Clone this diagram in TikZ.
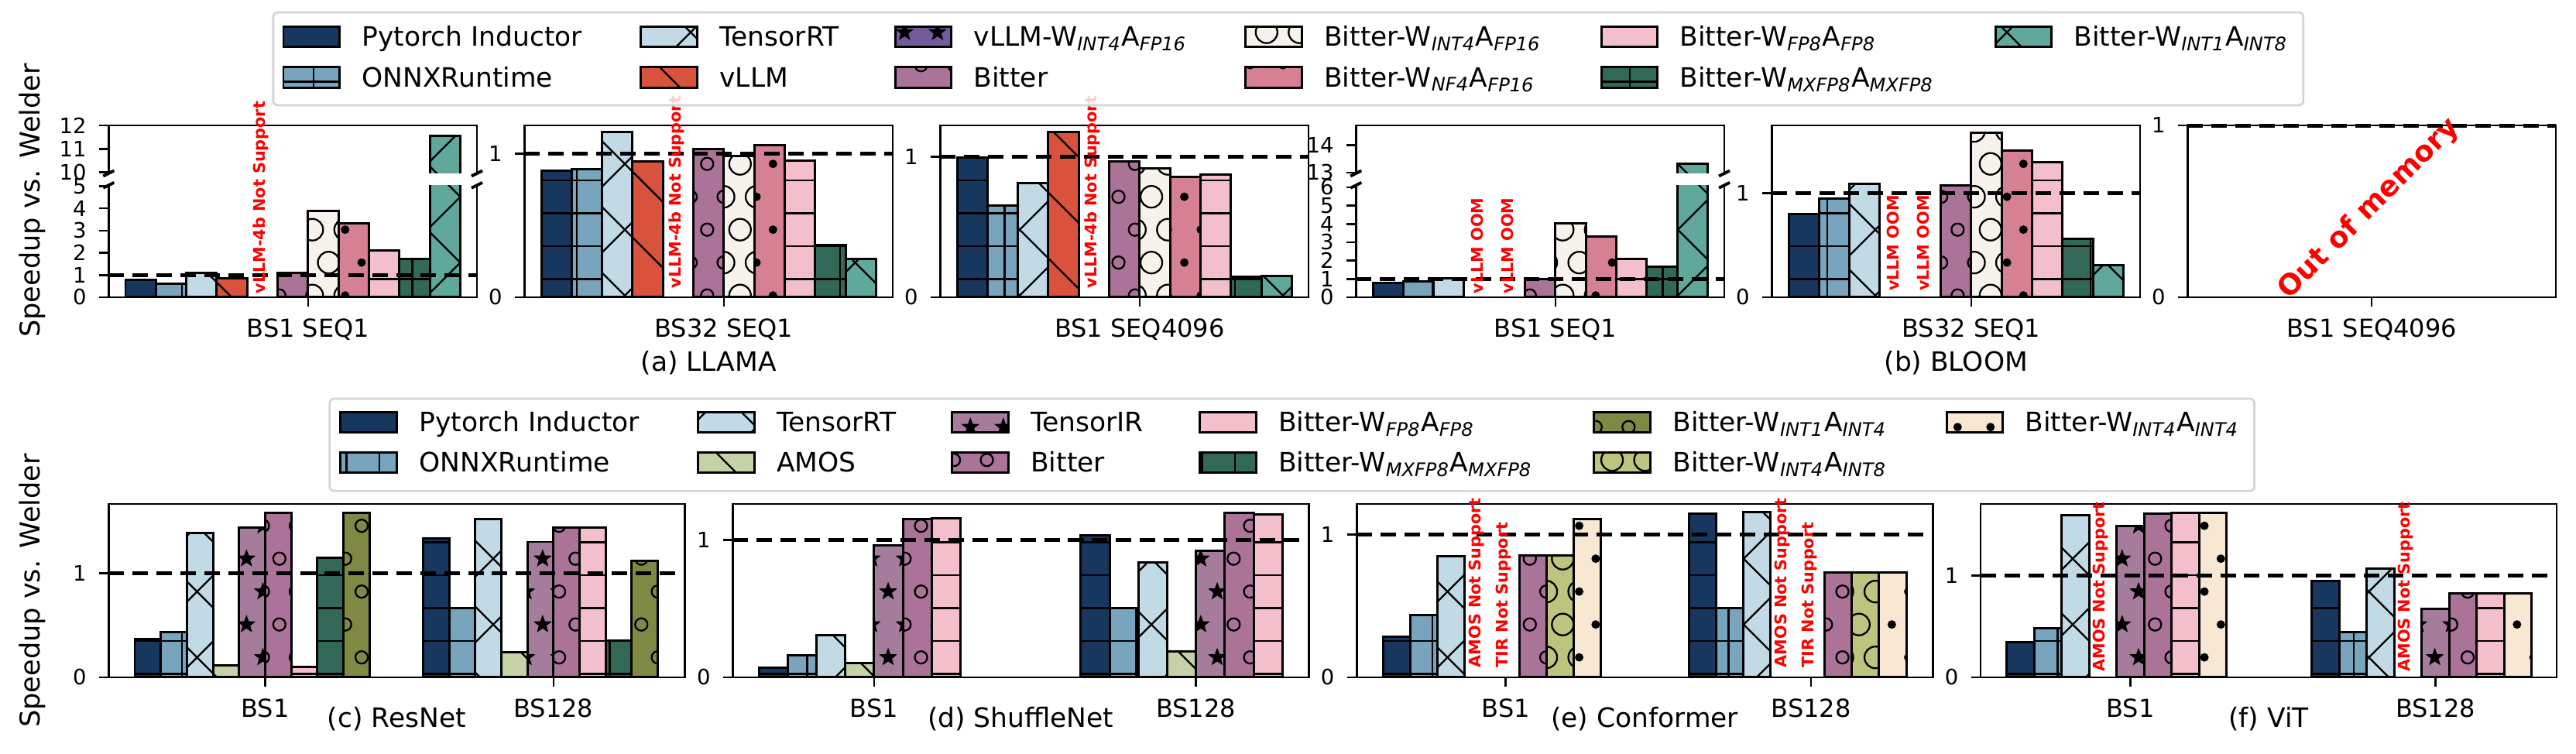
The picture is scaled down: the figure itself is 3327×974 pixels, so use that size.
\documentclass[tikz,border=0pt]{standalone}
\usepackage{fontspec}
\setmainfont{DejaVu Sans}[ItalicFont={DejaVu Sans Oblique},BoldFont={DejaVu Sans Bold},BoldItalicFont={DejaVu Sans Bold Oblique}]

\definecolor{cpti}{HTML}{17375E}
\definecolor{cort}{HTML}{78A4BE}
\definecolor{ctrt}{HTML}{C1DAE5}
\definecolor{cvllm}{HTML}{D8523C}
\definecolor{cvllmq}{HTML}{735A9B}
\definecolor{cbit}{HTML}{AA7397}
\definecolor{cwifs}{HTML}{F7F2EC}
\definecolor{cwnfs}{HTML}{D68093}
\definecolor{cwfpe}{HTML}{F2BFCA}
\definecolor{cwmxe}{HTML}{326858}
\definecolor{cwioe}{HTML}{5FA89B}
\definecolor{camos}{HTML}{C5D2A5}
\definecolor{ctir}{HTML}{A67C9C}
\definecolor{cwiof}{HTML}{808944}
\definecolor{cwife}{HTML}{BCC47E}
\definecolor{cwiff}{HTML}{F8E7D3}
\definecolor{legendgray}{HTML}{D5D5D5}

\newcommand{\wa}[2]{W\textsubscript{\itshape #1}A\textsubscript{\itshape #2}}

%% hatches, all on one lattice of the whole figure
\newcommand{\hatchhl}{%
  \pgfmathtruncatemacro\hma{floor((\hya-233)/42.5)}%
  \pgfmathtruncatemacro\hmb{ceil((\hyb-233)/42.5)}%
  \foreach \hm in {\hma,...,\hmb}{\draw[hatchline] (\hxa,{233+42.5*(\hm)}) -- (\hxb,{233+42.5*(\hm)});}}
\newcommand{\hatchvl}{%
  \pgfmathtruncatemacro\hka{floor((\hxa-915)/42.5)}%
  \pgfmathtruncatemacro\hkb{ceil((\hxb-915)/42.5)}%
  \foreach \hk in {\hka,...,\hkb}{\draw[hatchline] ({915+42.5*(\hk)},\hya) -- ({915+42.5*(\hk)},\hyb);}}
\newcommand{\hatchbs}{%
  \pgfmathtruncatemacro\hna{floor((\hya-\hxb+595.3)/85)}%
  \pgfmathtruncatemacro\hnb{ceil((\hyb-\hxa+595.3)/85)}%
  \foreach \hn in {\hna,...,\hnb}{\draw[hatchline] (\hxa,{\hxa-595.3+85*(\hn)}) -- (\hxb,{\hxb-595.3+85*(\hn)});}}
\newcommand{\hatchfs}{%
  \pgfmathtruncatemacro\hna{floor((\hya+\hxa-1018.7)/85)}%
  \pgfmathtruncatemacro\hnb{ceil((\hyb+\hxb-1018.7)/85)}%
  \foreach \hn in {\hna,...,\hnb}{\draw[hatchline] (\hxa,{1018.7+85*(\hn)-\hxa}) -- (\hxb,{1018.7+85*(\hn)-\hxb});}}
\newcommand{\lattice}[1]{%
  \pgfmathtruncatemacro\hma{floor((\hya-211.7)/42.5)-1}%
  \pgfmathtruncatemacro\hmb{ceil((\hyb-211.7)/42.5)+1}%
  \pgfmathtruncatemacro\hka{floor((\hxa-913.3)/42.5)-1}%
  \pgfmathtruncatemacro\hkb{ceil((\hxb-913.3)/42.5)+1}%
  \foreach \hm in {\hma,...,\hmb}{%
    \pgfmathsetmacro\hsh{0.5*abs(mod(\hm,2))}%
    \foreach \hk in {\hka,...,\hkb}{#1{913.3+42.5*(\hk+\hsh)}{211.7+42.5*(\hm)}}}}
\newcommand{\starmark}[2]{\fill[black] ({#1},{#2}) +(90:0.125cm) -- +(126:0.052cm) -- +(162:0.125cm) -- +(198:0.052cm) -- +(234:0.125cm) -- +(270:0.052cm) -- +(306:0.125cm) -- +(342:0.052cm) -- +(18:0.125cm) -- +(54:0.052cm) -- cycle;}
\newcommand{\ringsmall}[2]{\draw[hatchline] ({#1},{#2}) circle[radius=0.08cm];}
\newcommand{\ringlarge}[2]{\draw[hatchline] ({#1},{#2}) circle[radius=0.14cm];}
\newcommand{\dotmark}[2]{\fill[black] ({#1},{#2}) circle[radius=0.055cm];}

\newcommand{\hatchpti}{\hatchhl}
\newcommand{\hatchort}{\hatchhl\hatchvl}
\newcommand{\hatchtrt}{\hatchbs\hatchfs}
\newcommand{\hatchvllm}{\hatchbs}
\newcommand{\hatchvllmq}{\lattice\starmark}
\newcommand{\hatchbit}{\lattice\ringsmall}
\newcommand{\hatchwifs}{\lattice\ringlarge}
\newcommand{\hatchwnfs}{\lattice\dotmark}
\newcommand{\hatchwfpe}{\hatchhl}
\newcommand{\hatchwmxe}{\hatchhl\hatchvl}
\newcommand{\hatchwioe}{\hatchbs\hatchfs}
\newcommand{\hatchamos}{\hatchbs}
\newcommand{\hatchtir}{\lattice\starmark}
\newcommand{\hatchwiof}{\lattice\ringsmall}
\newcommand{\hatchwife}{\lattice\ringlarge}
\newcommand{\hatchwiff}{\lattice\dotmark}

%% one hatched box: series, x1, y1 (top), x2, y2 (bottom)
\newcommand{\hrect}[5]{%
  \edef\hser{#1}%
  \pgfmathsetmacro\hxa{#2}\pgfmathsetmacro\hya{#3}%
  \pgfmathsetmacro\hxb{#4}\pgfmathsetmacro\hyb{#5}%
  \fill[fill=c\hser] (\hxa,\hya) rectangle (\hxb,\hyb);
  \begin{scope}
    \clip (\hxa,\hya) rectangle (\hxb,\hyb);
    \csname hatch\hser\endcsname
  \end{scope}
  \draw[baredge] (\hxa,\hya) rectangle (\hxb,\hyb);}

%% bars: first slot x, slot width, y of 0, px per unit, slot/series/value
\newcommand{\bars}[5]{%
  \foreach \bi/\bs/\bv in {#5}{%
    \hrect{\bs}{#1+#2*\bi}{#3-#4*\bv}{#1+#2*\bi+#2}{#3}}}
\newcommand{\yticks}[3]{%
  \foreach \lab/\yy in {#3}{%
    \draw[tickline] (#2-12,\yy) -- (#2,\yy);
    \node[ytick] (yt-#1-\lab) at (#2-28,\yy) {\lab};}}
\newcommand{\xtick}[4]{%
  \draw[tickline] (#2,#3) -- (#2,#3+12);
  \node[xtick] (xt-#1) at (#2,#3+27.5) {#4};}
\newcommand{\legitem}[5]{%
  \hrect{#2}{#3}{#4}{#3+72.5}{#4+26.7}
  \node[legtext] (leg#1-#2) at (#3+101,#4+25.65) {#5};}

\begin{document}
\begin{tikzpicture}[x=0.01cm, y=-0.01cm,
  baredge/.style={draw=black, line width=0.85pt},
  hatchline/.style={draw=black, line width=0.65pt},
  spine/.style={draw=black, line width=0.8pt},
  tickline/.style={draw=black, line width=0.7pt},
  oneline/.style={draw=black, line width=1.5pt, dash pattern=on 5.7pt off 3.1pt},
  breakmark/.style={draw=black, line width=1.1pt},
  legframe/.style={draw=legendgray, line width=0.8pt, rounded corners=1.7pt, fill=white, fill opacity=0.8},
  legtext/.style={anchor=base west, inner sep=0pt, font=\fontsize{9.8}{12}\selectfont},
  ytick/.style={anchor=east, inner sep=0pt, font=\fontsize{7.8}{9}\selectfont},
  xtick/.style={anchor=north, inner sep=0pt, font=\fontsize{9.1}{11}\selectfont},
  caption/.style={anchor=base, inner sep=0pt, font=\fontsize{9.8}{12}\selectfont},
  ylab/.style={rotate=90, inner sep=0pt, font=\fontsize{10}{12}\selectfont},
  nosupport/.style={rotate=90, anchor=west, inner sep=0pt, text=red, font=\fontsize{5.9}{7}\selectfont\bfseries},
  oom/.style={rotate=45, inner sep=0pt, text=red, font=\fontsize{10.5}{12}\selectfont\bfseries}]
\useasboundingbox (0,0) rectangle (3327,974);

%%%% (a) LLAMA
% BS1 SEQ1, broken axis
\begin{scope}
  \clip (140.3,162) rectangle (616,224);
  \bars{162}{39.3}{526.2}{30.35}{10/wioe/11.55}
\end{scope}
\begin{scope}
  \clip (140.3,239.3) rectangle (616,384);
  \bars{162}{39.3}{384}{28.7}{0/pti/0.80, 1/ort/0.62, 2/trt/1.09, 3/vllm/0.84, 5/bit/1.09, 6/wifs/3.88, 7/wnfs/3.32, 8/wfpe/2.10, 9/wmxe/1.73, 10/wioe/11.55}
  \draw[oneline] (140.3,355.3) -- (616,355.3);
\end{scope}
\draw[spine] (140.3,224) -- (140.3,162) -- (616,162) -- (616,224);
\draw[spine] (140.3,239.3) -- (140.3,384) -- (616,384) -- (616,239.3);
\foreach \bx in {140.3,616} \foreach \by in {224,239.3} \draw[breakmark] (\bx-7,\by+3.5) -- (\bx+7,\by-3.5);
\yticks{a1}{140.3}{12/162, 11/192.35, 10/222.7, 5/240.5, 4/269.2, 3/297.9, 2/326.6, 1/355.3, 0/384}
\xtick{a1}{397.8}{384}{BS1 SEQ1}

% BS32 SEQ1
\begin{scope}
  \clip (677.3,162) rectangle (1153,384);
  \bars{699}{39.3}{384}{185.7}{0/pti/0.883, 1/ort/0.889, 2/trt/1.147, 3/vllm/0.946, 5/bit/1.030, 6/wifs/0.982, 7/wnfs/1.059, 8/wfpe/0.951, 9/wmxe/0.362, 10/wioe/0.264}
  \draw[oneline] (677.3,198.3) -- (1153,198.3);
\end{scope}
\draw[spine] (677.3,162) rectangle (1153,384);
\yticks{a2}{677.3}{1/198.3, 0/384}
\xtick{a2}{934.8}{384}{BS32 SEQ1}

% BS1 SEQ4096
\begin{scope}
  \clip (1214.3,162) rectangle (1690,384);
  \bars{1236}{39.3}{384}{181.3}{0/pti/0.993, 1/ort/0.656, 2/trt/0.812, 3/vllm/1.175, 5/bit/0.969, 6/wifs/0.917, 7/wnfs/0.859, 8/wfpe/0.873, 9/wmxe/0.145, 10/wioe/0.151}
  \draw[oneline] (1214.3,202.7) -- (1690,202.7);
\end{scope}
\draw[spine] (1214.3,162) rectangle (1690,384);
\yticks{a3}{1214.3}{1/202.7, 0/384}
\xtick{a3}{1471.8}{384}{BS1 SEQ4096}

\node[nosupport] (ns-a1) at (336.4,380) {vLLM-4b Not Support};
\node[nosupport] (ns-a2) at (873.4,373) {vLLM-4b Not Support};
\node[nosupport] (ns-a3) at (1410.4,373) {vLLM-4b Not Support};
\node[caption] (cap-a) at (915.2,480) {(a) LLAMA};

%%%% (b) BLOOM
% BS1 SEQ1, broken axis
\begin{scope}
  \clip (1751.3,162) rectangle (2227,224);
  \bars{1773}{39.3}{687.1}{35.7}{10/wioe/13.31}
\end{scope}
\begin{scope}
  \clip (1751.3,239.3) rectangle (2227,384);
  \bars{1773}{39.3}{384}{23.67}{0/pti/0.773, 1/ort/0.874, 2/trt/1.014, 5/bit/1.01, 6/wifs/4.03, 7/wnfs/3.30, 8/wfpe/2.07, 9/wmxe/1.65, 10/wioe/13.31}
  \draw[oneline] (1751.3,360.3) -- (2227,360.3);
\end{scope}
\draw[spine] (1751.3,224) -- (1751.3,162) -- (2227,162) -- (2227,224);
\draw[spine] (1751.3,239.3) -- (1751.3,384) -- (2227,384) -- (2227,239.3);
\foreach \bx in {1751.3,2227} \foreach \by in {224,239.3} \draw[breakmark] (\bx-7,\by+3.5) -- (\bx+7,\by-3.5);
\yticks{b1}{1751.3}{14/187.3, 13/223, 6/242, 5/265.65, 4/289.3, 3/313, 2/336.7, 1/360.3, 0/384}
\xtick{b1}{2008.8}{384}{BS1 SEQ1}

% BS32 SEQ1
\begin{scope}
  \clip (2288.3,162) rectangle (2764,384);
  \bars{2310}{39.3}{384}{134.7}{0/pti/0.80, 1/ort/0.95, 2/trt/1.084, 5/bit/1.074, 6/wifs/1.581, 7/wnfs/1.408, 8/wfpe/1.292, 9/wmxe/0.562, 10/wioe/0.307}
  \draw[oneline] (2288.3,249.3) -- (2764,249.3);
\end{scope}
\draw[spine] (2288.3,162) rectangle (2764,384);
\yticks{b2}{2288.3}{1/249.3, 0/384}
\xtick{b2}{2545.8}{384}{BS32 SEQ1}

% BS1 SEQ4096
\draw[spine] (2825.3,162) rectangle (3301,384);
\draw[oneline] (2825.3,162.5) -- (3301,162.5);
\yticks{b3}{2825.3}{1/162, 0/384}
\xtick{b3}{3063.2}{384}{BS1 SEQ4096}
\node[oom] (oom-b3) at (3060,270) {Out of memory};

\node[nosupport] (ns-b1a) at (1908.1,380) {vLLM OOM};
\node[nosupport] (ns-b1b) at (1947.4,380) {vLLM OOM};
\node[nosupport] (ns-b2a) at (2445.1,376.7) {vLLM OOM};
\node[nosupport] (ns-b2b) at (2484.4,376.7) {vLLM OOM};
\node[caption] (cap-b) at (2526.2,480) {(b) BLOOM};

%%%% bottom row
% (c) ResNet
\begin{scope}
  \clip (140.3,651) rectangle (884.3,875);
  \bars{174}{33.67}{875}{134.3}{0/pti/0.367, 1/ort/0.434, 2/trt/1.385, 3/amos/0.119, 4/tir/1.444, 5/bit/1.584, 6/wfpe/0.104, 7/wmxe/1.149, 8/wiof/1.584}
  \bars{546.5}{33.67}{875}{134.3}{0/pti/1.333, 1/ort/0.663, 2/trt/1.526, 3/amos/0.241, 4/tir/1.303, 5/bit/1.444, 6/wfpe/1.444, 7/wmxe/0.352, 8/wiof/1.117}
  \draw[oneline] (140.3,740.7) -- (884.3,740.7);
\end{scope}
\draw[spine] (140.3,651) rectangle (884.3,875);
\yticks{c}{140.3}{1/740.7, 0/875}
\xtick{c1}{342.3}{875}{BS1}
\xtick{c2}{714.8}{875}{BS128}
\node[caption] (cap-c) at (512.3,940) {(c) ResNet};

% (d) ShuffleNet
\begin{scope}
  \clip (946.2,651) rectangle (1690.2,875);
  \bars{980}{37.2}{875}{177.7}{0/pti/0.069, 1/ort/0.159, 2/trt/0.304, 3/amos/0.103, 4/tir/0.957, 5/bit/1.148, 6/wfpe/1.154}
  \bars{1395.8}{37.2}{875}{177.7}{0/pti/1.035, 1/ort/0.506, 2/trt/0.835, 3/amos/0.187, 4/tir/0.919, 5/bit/1.197, 6/wfpe/1.187}
  \draw[oneline] (946.2,697.3) -- (1690.2,697.3);
\end{scope}
\draw[spine] (946.2,651) rectangle (1690.2,875);
\yticks{d}{946.2}{1/697.3, 0/875}
\xtick{d1}{1128.8}{875}{BS1}
\xtick{d2}{1544.6}{875}{BS128}
\node[caption] (cap-d) at (1318.2,940) {(d) ShuffleNet};

% (e) Conformer
\begin{scope}
  \clip (1752.1,651) rectangle (2496.1,875);
  \bars{1786.6}{35.1}{875}{184.7}{0/pti/0.283, 1/ort/0.435, 2/trt/0.845, 5/bit/0.855, 6/wife/0.855, 7/wiff/1.105}
  \bars{2181.2}{35.1}{875}{184.7}{0/pti/1.146, 1/ort/0.487, 2/trt/1.155, 5/bit/0.735, 6/wife/0.735, 7/wiff/0.735}
  \draw[oneline] (1752.1,690.3) -- (2496.1,690.3);
\end{scope}
\draw[spine] (1752.1,651) rectangle (2496.1,875);
\yticks{e}{1752.1}{1/690.3, 0/875}
\xtick{e1}{1944.6}{875}{BS1}
\xtick{e2}{2339.2}{875}{BS128}
\node[nosupport] (ns-e1a) at (1907,863) {AMOS Not Support};
\node[nosupport] (ns-e1b) at (1942.1,863) {TIR Not Support};
\node[nosupport] (ns-e2a) at (2301.6,863) {AMOS Not Support};
\node[nosupport] (ns-e2b) at (2336.7,863) {TIR Not Support};
\node[caption] (cap-e) at (2124.1,940) {(e) Conformer};

% (f) ViT
\begin{scope}
  \clip (2558,651) rectangle (3302,875);
  \bars{2591.7}{35.5}{875}{131.7}{0/pti/0.342, 1/ort/0.484, 2/trt/1.588, 4/tir/1.487, 5/bit/1.607, 6/wfpe/1.615, 7/wiff/1.615}
  \bars{2985.6}{35.5}{875}{131.7}{0/pti/0.942, 1/ort/0.443, 2/trt/1.068, 4/tir/0.671, 5/bit/0.823, 6/wfpe/0.823, 7/wiff/0.823}
  \draw[oneline] (2558,743.3) -- (3302,743.3);
\end{scope}
\draw[spine] (2558,651) rectangle (3302,875);
\yticks{f}{2558}{1/743.3, 0/875}
\xtick{f1}{2751.5}{875}{BS1}
\xtick{f2}{3145.4}{875}{BS128}
\node[nosupport] (ns-f1) at (2713.4,868.3) {AMOS Not Support};
\node[nosupport] (ns-f2) at (3107.4,868.3) {AMOS Not Support};
\node[caption] (cap-f) at (2930,940) {(f) ViT};

\node[ylab] (ylab-top) at (42,259) {Speedup vs. Welder};
\node[ylab] (ylab-bot) at (42,763) {Speedup vs. Welder};

%%%% legends
\draw[legframe] (352.9,16) rectangle (2974.8,136);
\legitem{1}{pti}{366}{34.3}{Pytorch Inductor}
\legitem{1}{ort}{366}{86.7}{ONNXRuntime}
\legitem{1}{trt}{827.8}{34.3}{TensorRT}
\legitem{1}{vllm}{827.8}{86.7}{vLLM}
\legitem{1}{vllmq}{1156}{34.3}{vLLM-\wa{INT4}{FP16}}
\legitem{1}{bit}{1156}{86.7}{Bitter}
\legitem{1}{wifs}{1608.6}{34.3}{Bitter-\wa{INT4}{FP16}}
\legitem{1}{wnfs}{1608.6}{86.7}{Bitter-\wa{NF4}{FP16}}
\legitem{1}{wfpe}{2068}{34.3}{Bitter-\wa{FP8}{FP8}}
\legitem{1}{wmxe}{2068}{86.7}{Bitter-\wa{MXFP8}{MXFP8}}
\legitem{1}{wioe}{2577}{34.3}{Bitter-\wa{INT1}{INT8}}

\draw[legframe] (425.8,515) rectangle (2911.6,634.3);
\legitem{2}{pti}{439.8}{532.3}{Pytorch Inductor}
\legitem{2}{ort}{439.8}{584.3}{ONNXRuntime}
\legitem{2}{trt}{901.5}{532.3}{TensorRT}
\legitem{2}{amos}{901.5}{584.3}{AMOS}
\legitem{2}{tir}{1229.6}{532.3}{TensorIR}
\legitem{2}{bit}{1229.6}{584.3}{Bitter}
\legitem{2}{wfpe}{1549.5}{532.3}{Bitter-\wa{FP8}{FP8}}
\legitem{2}{wmxe}{1549.5}{584.3}{Bitter-\wa{MXFP8}{MXFP8}}
\legitem{2}{wiof}{2058.8}{532.3}{Bitter-\wa{INT1}{INT4}}
\legitem{2}{wife}{2058.8}{584.3}{Bitter-\wa{INT4}{INT8}}
\legitem{2}{wiff}{2514}{532.3}{Bitter-\wa{INT4}{INT4}}
\end{tikzpicture}
\end{document}
